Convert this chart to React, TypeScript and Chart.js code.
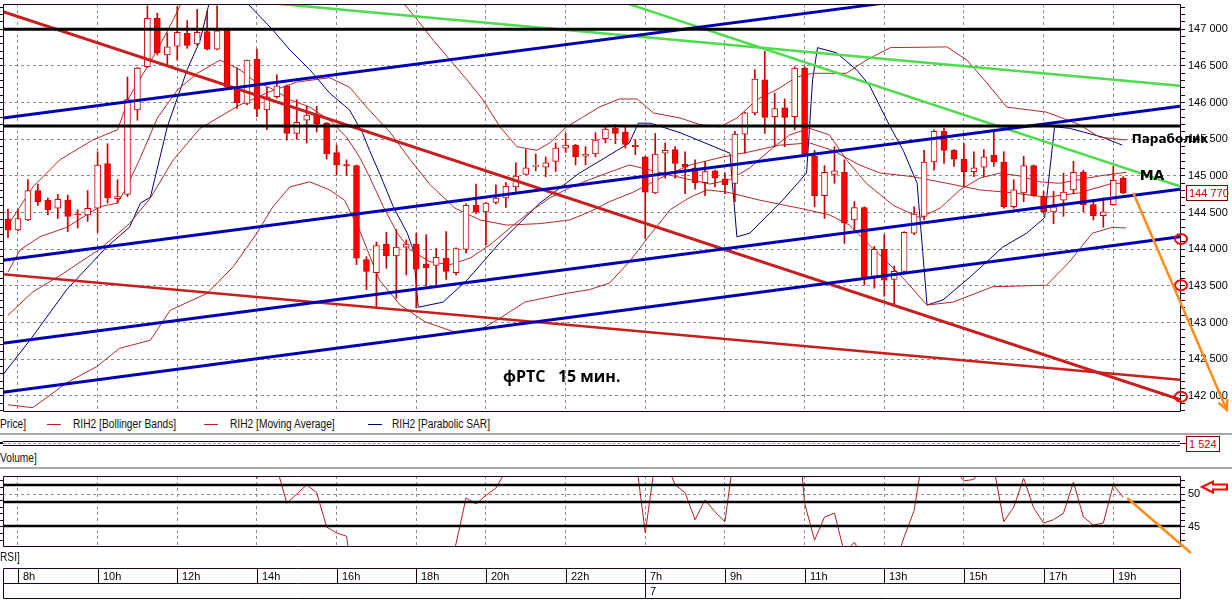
import React, { useEffect, useRef } from 'react';
import { Chart, registerables } from 'chart.js';

Chart.register(...registerables);

// ---------- scale ranges ----------
const X_MIN = -0.5;
const X_MAX = 117.7;
const PRICE_MIN = 141795;
const PRICE_MAX = 147345;
const RSI_MIN = 42.12;
const RSI_MAX = 52.73;

// ---------- candles (15 min) ----------
const candleOpen = [
  144410, 144265, 144400, 144800, 144670, 144560, 144670, 144480, 144470, 144560,
  145170, 144690, 144750, 145900, 146490, 147150, 146650, 146770, 146945, 146800,
  146970, 146730, 146990, 146210, 145990, 146590, 145900, 146080, 146230, 145580,
  145760, 145830, 145720, 145320, 145150, 145140, 143860, 143680, 144070, 143910,
  144030, 144070, 143800, 143780, 143880, 143680, 144000, 144600, 144510, 144640,
  144700, 144850, 145020, 145130, 145120, 145200, 145380, 145420, 145270, 145300,
  145510, 145650, 145600, 145420, 145260, 144770, 145310, 145360, 145160, 145110,
  144910, 145070, 144960, 144900, 145570, 145860, 146310, 145810, 145930, 145810,
  146470, 145270, 144730, 145020, 145050, 144400, 144570, 143630, 144000, 143590,
  143700, 144220, 144450, 145190, 145610, 145350, 145230, 145060, 145120, 145280,
  145190, 144580, 144770, 145140, 144720, 144510, 144670, 144810, 145050, 144610,
  144460, 144610, 144970,
];
const candleHigh = [
  144550, 144540, 144950, 144890, 144700, 144750, 144740, 144540, 144800, 145330,
  145440, 144950, 146350, 146480, 147320, 147220, 146950, 147310, 147120, 147270,
  147250, 147320, 147000, 146470, 146580, 146730, 146210, 146380, 146240, 146040,
  145950, 145950, 145730, 145420, 145220, 145150, 143900, 144100, 144230, 144270,
  144130, 144220, 144200, 144010, 144240, 144020, 144620, 144890, 144640, 144880,
  144910, 145180, 145360, 145300, 145260, 145450, 145580, 145430, 145400, 145590,
  145680, 145700, 145670, 145490, 145270, 145580, 145450, 145400, 145330, 145220,
  145200, 145080, 145040, 145610, 145870, 146450, 146700, 146130, 146050, 146490,
  146490, 145350, 145140, 145400, 145220, 144650, 144580, 144040, 144200, 143770,
  144240, 144580, 145350, 145630, 145650, 145360, 145440, 145330, 145360, 145630,
  145330, 144950, 145270, 145150, 144790, 144790, 145040, 145200, 145080, 144670,
  144700, 145130, 144990,
];
const candleLow = [
  144160, 144250, 144390, 144600, 144470, 144420, 144240, 144290, 144380, 144230,
  144630, 144630, 144720, 145760, 146480, 146650, 146510, 146580, 146740, 146780,
  146720, 146720, 146200, 145920, 145970, 145810, 145630, 146060, 145490, 145500,
  145450, 145600, 145230, 145010, 145010, 143790, 143450, 143220, 143740, 143330,
  143650, 143200, 143500, 143500, 143590, 143650, 143950, 144490, 144060, 144620,
  144570, 144790, 145020, 145070, 144990, 145060, 145320, 145150, 145150, 145260,
  145450, 145440, 145380, 145290, 144150, 144760, 144970, 144970, 144760, 144820,
  144730, 144850, 144760, 144650, 145310, 145830, 145580, 145400, 145400, 145630,
  145290, 144580, 144420, 144900, 144080, 144260, 143510, 143470, 143360, 143240,
  143680, 144200, 144400, 145080, 145170, 145130, 144860, 144990, 144990, 145130,
  144560, 144560, 144650, 144720, 144490, 144350, 144450, 144760, 144510, 144400,
  144300, 144600, 144760,
];
const candleClose = [
  144260, 144420, 144800, 144650, 144540, 144680, 144450, 144470, 144560, 145150,
  144700, 144720, 146040, 146470, 147150, 146680, 146760, 146960, 146780, 146960,
  146730, 146980, 146210, 146000, 146580, 145910, 146080, 146230, 145580, 145730,
  145830, 145710, 145300, 145150, 145140, 143880, 143700, 144050, 143910, 144030,
  144070, 143730, 143750, 143890, 143700, 144010, 144600, 144510, 144630, 144700,
  144860, 145000, 145110, 145140, 145180, 145380, 145420, 145260, 145300, 145490,
  145640, 145580, 145430, 145400, 144780, 145300, 145350, 145170, 145120, 144910,
  145060, 144970, 144880, 145570, 145860, 146320, 145800, 145920, 145800, 146470,
  145300, 144730, 145050, 145070, 144360, 144570, 143620, 144000, 143580, 143700,
  144230, 144480, 145190, 145610, 145350, 145230, 145060, 145110, 145260, 145190,
  144580, 144810, 145140, 144730, 144510, 144580, 144780, 145050, 144610, 144460,
  144510, 144940, 144770,
];

// ---------- time axis ----------
const timeLabels = ['8h', '10h', '12h', '14h', '16h', '18h', '20h', '22h', '7h', '9h', '11h', '13h', '15h', '17h', '19h'];
const timeIndex = [1, 9, 17, 25, 33, 41, 48, 56, 64, 72, 80, 88, 96, 104, 111];
const dayLabel = '7';
const dayIndex = 64;

// ---------- indicators: [candle index, price] ----------
const bbUpper = [
  [0, 144330], [1.2, 144580], [2.5, 144850], [5.2, 145220], [8.5, 145490], [11, 145630], [12.2, 146080],
  [13.6, 146400], [15, 146720], [16.6, 147130], [17.8, 147470], [21.3, 147740], [25.3, 147670], [29.3, 147470],
  [33.3, 147540], [36.3, 147600], [39.7, 147360], [41.1, 147130], [42.7, 146850], [44.4, 146580], [46.1, 146310],
  [47.7, 146040], [49.4, 145670], [51.1, 145400], [53.1, 145350], [54.4, 145450], [56.1, 145670], [57.7, 145800],
  [59.4, 145940], [61.4, 146050], [63.2, 146050], [64.8, 145860], [67.5, 145790], [69.5, 145700], [71.5, 145670],
  [73.2, 145790], [75.2, 146040], [77.5, 146200], [79.2, 146350], [80.8, 146400], [84.2, 146400], [86.2, 146580],
  [88.6, 146750], [94.3, 146760], [96.3, 146580], [98.3, 146270], [100.3, 145940], [104.3, 145870], [107.6, 145700],
  [109.6, 145530], [112.3, 145490],
];
const bbMiddle = [
  [0, 143100], [2.5, 143420], [5.2, 143640], [9.2, 144000], [12.2, 144350], [14.3, 144700], [16.6, 145220],
  [19.3, 145650], [23.3, 145970], [26.3, 146150], [29, 146280], [32.3, 146340], [34.3, 146210], [36, 145940],
  [38.4, 145590], [40.4, 145220], [42.4, 144880], [44.9, 144560], [47.4, 144400], [50.1, 144330], [53.4, 144350],
  [56.4, 144400], [58.4, 144510], [60.4, 144650], [62.8, 144780], [65.5, 144970], [68.5, 145150], [71.5, 145250],
  [74.5, 145330], [77.5, 145420], [80.5, 145450], [82.8, 145350], [85.5, 145150], [87.6, 145040], [90.9, 144990],
  [94.3, 144900], [97.6, 144810], [100.9, 144770], [104.3, 144710], [107.6, 144770], [110.9, 144900], [112.3, 144900],
];
const bbLower = [
  [0, 141880], [2.5, 141840], [5.9, 142180], [8.9, 142400], [11.2, 142650], [14.3, 142760], [16.3, 143170],
  [20, 143400], [22.6, 143760], [25, 144220], [26.6, 144580], [28.3, 144850], [30.3, 144920], [32.3, 144810],
  [33.8, 144670], [35.3, 144260], [37.3, 143580], [39.4, 143240], [41.9, 143010], [44.9, 142870], [47.4, 142900],
  [49.4, 143060], [51.9, 143280], [56.1, 143400], [58.4, 143450], [60.4, 143540], [62.4, 143830], [64.5, 144200],
  [66.5, 144540], [68.5, 144710], [70.2, 144810], [72.2, 144780], [75.5, 144670], [79.5, 144560], [82.5, 144470],
  [84.5, 144330], [86.5, 144060], [89.6, 143650], [92.3, 143240], [94.9, 143280], [98.9, 143490], [104.3, 143510],
  [106.6, 143830], [108.9, 144220], [110.9, 144300], [112.3, 144290],
];
const maLine = [
  [0, 143690], [1.2, 143990], [3.2, 144170], [5.9, 144300], [9.2, 144580], [11, 144630], [11.9, 144840],
  [13.3, 145250], [15, 145790], [17, 146170], [19, 146400], [21.3, 146580], [23.3, 146450], [24.6, 146310],
  [26.8, 146170], [28.3, 146040], [30.3, 145940], [32.3, 145760], [34, 145530], [35.3, 145260], [36.3, 144990],
  [37.7, 144580], [39.1, 144220], [40.4, 143990], [42.4, 143830], [44.4, 143790], [46.4, 143880], [48.4, 144060],
  [50.4, 144290], [52.4, 144510], [54.4, 144700], [56.4, 144840], [58.4, 144950], [60.4, 145050], [62.4, 145150],
  [64.5, 145080], [66.5, 145010], [68.5, 144950], [70.5, 144890], [72.5, 144950], [74.5, 145110], [76.5, 145350],
  [78.5, 145560], [80.5, 145650], [82.5, 145560], [84.2, 145220], [86.2, 144900], [88.9, 144600], [91.6, 144430],
  [93.6, 144560], [95.6, 144810], [97.6, 144970], [99.6, 145040], [101.6, 145000], [103.6, 144920], [105.6, 144900],
  [107.6, 144950], [109.6, 145000], [112.3, 145050],
];
const sarLine = [
  [-0.5, 142290], [2.2, 142760], [5.9, 143450], [9.9, 144030], [12.2, 144300], [13.3, 144630], [14.3, 144710],
  [16, 145670], [18, 146450], [19.3, 146850], [20.1, 147300], [20.8, 147670], [21.8, 147950], [24, 147360],
  [26.6, 146990], [28.3, 146720], [30.3, 146450], [32.3, 146130], [34.3, 145900], [35.6, 145590], [36.3, 145350],
  [37.3, 145040], [38.7, 144580], [40.1, 144220], [40.7, 143990], [41.2, 143210], [43.7, 143280], [46.1, 143580],
  [49.4, 144090], [53.4, 144630], [57.4, 145040], [60.1, 145260], [62.4, 145450], [63.3, 145720], [64.5, 145720],
  [67.5, 145590], [72.5, 145310], [73.2, 144170], [74.5, 144220], [77.8, 144670], [80.2, 145040], [80.8, 146310],
  [81.3, 146750], [83.2, 146680], [85.2, 146450], [86.5, 146240], [88.6, 145670], [89.9, 145350], [91.3, 144900],
  [92.3, 143240], [93.9, 143310], [96.6, 143620], [99.9, 144030], [102.3, 144220], [104.1, 144430], [105.1, 145670],
  [106.6, 145650], [109.9, 145530], [111.9, 145420],
];

// ---------- hand-drawn lines: [[index, price], [index, price]] ----------
const blackLevels = [147000, 145680];
const blueLines = [
  [[-0.5, 145790], [88, 147357]],
  [[-0.5, 143850], [117.7, 145950]],
  [[-0.5, 142720], [117.7, 144820]],
  [[-0.5, 142050], [117.7, 144170]],
];
const redLines = [
  [[-0.5, 147240], [117.7, 141950]],
  [[-0.5, 143660], [117.7, 142220]],
];
const greenLines = [
  [[20, 147435], [117.7, 146230]],
  [[60, 147450], [117.7, 144860]],
];
const circleLevels = [144140, 143510, 141990];
const orangeArrow = [[113, 144770], [122.4, 141810]];
const sarLabel = { text: 'Параболик', at: [112.85, 145490] };
const maLabel = { text: 'MA', at: [113.65, 145000] };
const titleLabel = { text: 'фРТС   15 мин.', at: [49.7, 142250] };

// ---------- RSI ----------
const rsiValues = [
  60, 58, 62, 60, 57, 58, 56, 57, 59, 66,
  62, 61, 68, 72, 74, 70, 71, 70, 68, 69,
  67, 66, 67, 60, 57, 52.4, 55, 54, 48.6, 50,
  51.4, 50.2, 45, 44.1, 43.6, 33, 30, 34, 33, 35,
  34, 36, 35, 37, 36, 42.5, 49.4, 48.5, 49.8, 50.9,
  53.5, 55, 57, 58, 57, 58, 60, 59, 61, 62,
  63, 62, 60, 56, 44.1, 55, 55, 51.4, 50.2, 46.1,
  49.1, 47.3, 45.8, 57, 60, 63, 66, 64, 63, 66,
  48.6, 43, 46.5, 47.1, 41, 42.7, 40, 37, 38, 39,
  43.5, 47.5, 57, 60, 59, 54, 52, 52.2, 55, 54,
  45.8, 48, 52.4, 47.9, 45.6, 46.1, 47.1, 51.8, 46.5, 45.3,
  45.6, 51.4, 49.5,
];
const rsiLevels = [51.36, 48.79, 45.15];
const rsiTicks = [43, 44, 45, 46, 47, 48, 49, 50, 51, 52];
const rsiLabeled = [45, 50];
const rsiOrange = [[112.4, 49.4], [118.8, 41.06]];
const rsiMarker = 51.06;
const lastVolume = '1 524';

// ---------- helpers ----------
const FRAME = '#200020';
const GRID = '#8c8c8c';
const fmtPrice = (v: number) => `${Math.floor(v / 1000)} ${String(Math.round(v % 1000)).padStart(3, '0')}`;
const toXY = (pts: number[][]) => pts.map(([x, y]) => ({ x, y }));
const lineDs = (label: string, pts: number[][], color: string, width: number, order: number) => ({
  type: 'line',
  label,
  data: toXY(pts),
  borderColor: color,
  backgroundColor: color,
  borderWidth: width,
  pointRadius: 0,
  pointHoverRadius: 0,
  fill: false,
  tension: 0,
  order,
});

const xScaleCfg = () => ({
  type: 'linear',
  position: 'bottom',
  min: X_MIN,
  max: X_MAX,
  offset: false,
  afterBuildTicks: (s: any) => {
    s.ticks = timeIndex.map((v) => ({ value: v }));
  },
  afterFit: (s: any) => {
    s.height = 0;
    s.paddingLeft = 0;
    s.paddingRight = 0;
    s.paddingTop = 0;
    s.paddingBottom = 0;
  },
  ticks: { display: false },
  grid: { color: GRID, lineWidth: 1, drawTicks: false, offset: false },
  border: { display: false, dash: [3, 3] },
});

const fitVertical = (w: number) => (s: any) => {
  s.width = w;
  s.paddingTop = 0;
  s.paddingBottom = 0;
  s.paddingLeft = 0;
  s.paddingRight = 0;
};

const leftAxisCfg = (min: number, max: number, ticks: number[]) => ({
  type: 'linear',
  position: 'left',
  min,
  max,
  afterBuildTicks: (s: any) => {
    s.ticks = ticks.map((v) => ({ value: v }));
  },
  afterFit: fitVertical(3),
  ticks: { display: false },
  grid: { drawOnChartArea: false, tickLength: 3, tickColor: FRAME },
  border: { display: false },
});

const priceTicks: number[] = [];
for (let v = 141800; v <= 147300; v += 100) priceTicks.push(v);

const drawFrame = (ctx: CanvasRenderingContext2D, a: any) => {
  ctx.strokeStyle = FRAME;
  ctx.lineWidth = 1;
  ctx.setLineDash([]);
  ctx.beginPath();
  ctx.moveTo(a.left + 0.5, a.top + 0.5);
  ctx.lineTo(a.right + 0.5, a.top + 0.5);
  ctx.lineTo(a.right + 0.5, a.bottom + 0.5);
  ctx.lineTo(a.left + 0.5, a.bottom + 0.5);
  ctx.closePath();
  ctx.stroke();
};

const priceDecor = {
  id: 'priceDecor',
  afterDraw(chart: any) {
    const { ctx, chartArea: a } = chart;
    const xs = chart.scales.x;
    const ys = chart.scales.y;
    ctx.save();
    drawFrame(ctx, a);

    // last price box
    const lp = candleClose[candleClose.length - 1];
    const py = Math.round(ys.getPixelForValue(lp));
    ctx.fillStyle = '#ffffff';
    ctx.fillRect(a.right + 6, py - 8, 42, 16);
    ctx.strokeStyle = '#800000';
    ctx.lineWidth = 1;
    ctx.strokeRect(a.right + 6.5, py - 7.5, 41, 15);
    ctx.fillStyle = '#d00000';
    ctx.font = '11px "Liberation Sans"';
    ctx.textAlign = 'left';
    ctx.textBaseline = 'middle';
    ctx.fillText(fmtPrice(lp), a.right + 9, py + 0.5);

    // red circles on the axis
    ctx.strokeStyle = '#ff0000';
    ctx.lineWidth = 2;
    circleLevels.forEach((v) => {
      ctx.beginPath();
      ctx.ellipse(a.right + 1, ys.getPixelForValue(v), 6, 5, 0, 0, Math.PI * 2);
      ctx.stroke();
    });

    // orange arrow
    const [p0, p1] = orangeArrow;
    const x0 = xs.getPixelForValue(p0[0]);
    const y0 = ys.getPixelForValue(p0[1]);
    const x1 = xs.getPixelForValue(p1[0]);
    const y1 = ys.getPixelForValue(p1[1]);
    ctx.strokeStyle = '#ff8c1a';
    ctx.lineWidth = 2.5;
    ctx.beginPath();
    ctx.moveTo(x0, y0);
    ctx.lineTo(x1, y1);
    ctx.stroke();
    const ang = Math.atan2(y1 - y0, x1 - x0);
    ctx.beginPath();
    ctx.moveTo(x1 - 11 * Math.cos(ang - 0.45), y1 - 11 * Math.sin(ang - 0.45));
    ctx.lineTo(x1, y1);
    ctx.lineTo(x1 - 11 * Math.cos(ang + 0.45), y1 - 11 * Math.sin(ang + 0.45));
    ctx.stroke();

    // text annotations
    ctx.fillStyle = '#000000';
    ctx.textBaseline = 'middle';
    ctx.font = 'bold 12px "DejaVu Sans"';
    ctx.fillText(sarLabel.text, xs.getPixelForValue(sarLabel.at[0]), ys.getPixelForValue(sarLabel.at[1]));
    ctx.font = 'bold 14px "DejaVu Sans"';
    ctx.fillText(maLabel.text, xs.getPixelForValue(maLabel.at[0]), ys.getPixelForValue(maLabel.at[1]));
    ctx.font = 'bold 16px "Open Sans"';
    ctx.fillText(titleLabel.text, xs.getPixelForValue(titleLabel.at[0]), ys.getPixelForValue(titleLabel.at[1]));
    ctx.restore();
  },
};

const rsiDecor = {
  id: 'rsiDecor',
  afterDraw(chart: any) {
    const { ctx, chartArea: a } = chart;
    const xs = chart.scales.x;
    const ys = chart.scales.y;
    ctx.save();
    drawFrame(ctx, a);

    // orange line
    const [p0, p1] = rsiOrange;
    ctx.strokeStyle = '#ff8c1a';
    ctx.lineWidth = 2.5;
    ctx.beginPath();
    ctx.moveTo(xs.getPixelForValue(p0[0]), ys.getPixelForValue(p0[1]));
    ctx.lineTo(xs.getPixelForValue(p1[0]), ys.getPixelForValue(p1[1]));
    ctx.stroke();

    // red hollow arrow marker
    const my = ys.getPixelForValue(rsiMarker);
    const tip = a.right + 22;
    ctx.strokeStyle = '#ff0000';
    ctx.lineWidth = 2;
    ctx.beginPath();
    ctx.moveTo(tip, my);
    ctx.lineTo(tip + 11, my - 5.5);
    ctx.lineTo(tip + 11, my - 2.5);
    ctx.lineTo(tip + 25, my - 2.5);
    ctx.lineTo(tip + 25, my + 2.5);
    ctx.lineTo(tip + 11, my + 2.5);
    ctx.lineTo(tip + 11, my + 5.5);
    ctx.closePath();
    ctx.stroke();

    // time strip
    const top = a.bottom + 22;
    const mid = top + 15;
    const bot = top + 30;
    ctx.strokeStyle = FRAME;
    ctx.lineWidth = 1;
    ctx.beginPath();
    ctx.moveTo(a.left + 0.5, top + 0.5);
    ctx.lineTo(a.right + 0.5, top + 0.5);
    ctx.lineTo(a.right + 0.5, bot + 0.5);
    ctx.lineTo(a.left + 0.5, bot + 0.5);
    ctx.closePath();
    ctx.moveTo(a.left + 0.5, mid + 0.5);
    ctx.lineTo(a.right + 0.5, mid + 0.5);
    timeIndex.forEach((v) => {
      const px = Math.round(xs.getPixelForValue(v)) + 0.5;
      ctx.moveTo(px, top);
      ctx.lineTo(px, v === dayIndex ? bot : mid);
    });
    ctx.stroke();
    ctx.fillStyle = '#000000';
    ctx.font = '11px "Liberation Sans"';
    ctx.textAlign = 'left';
    ctx.textBaseline = 'middle';
    timeIndex.forEach((v, k) => {
      ctx.fillText(timeLabels[k], Math.round(xs.getPixelForValue(v)) + 5, (top + mid) / 2 + 1);
    });
    ctx.fillText(dayLabel, Math.round(xs.getPixelForValue(dayIndex)) + 5, (mid + bot) / 2 + 1);
    ctx.restore();
  },
};

function buildPriceConfig(): any {
  const wickData = candleOpen.map((_, i) => ({ x: i, y: [candleLow[i], candleHigh[i]] }));
  const bodyData = candleOpen.map((o, i) => ({ x: i, y: [Math.min(o, candleClose[i]), Math.max(o, candleClose[i])] }));
  const bodyColors = candleOpen.map((o, i) => (candleClose[i] < o ? '#ff0000' : '#ffffff'));
  const datasets: any[] = [
    lineDs('BB upper', bbUpper, '#b42828', 1, 3),
    lineDs('BB middle', bbMiddle, '#b42828', 1, 3),
    lineDs('BB lower', bbLower, '#b42828', 1, 3),
    lineDs('Moving Average', maLine, '#b42828', 1, 3),
    lineDs('Parabolic SAR', sarLine, '#000080', 1, 3),
    {
      type: 'bar',
      label: 'wick',
      data: wickData,
      backgroundColor: '#c80000',
      borderWidth: 0,
      barThickness: 1,
      grouped: false,
      order: 2,
    },
    {
      type: 'bar',
      label: 'body',
      data: bodyData,
      backgroundColor: bodyColors,
      borderColor: '#d00000',
      borderWidth: 1,
      borderSkipped: false,
      barThickness: 6,
      minBarLength: 1,
      grouped: false,
      order: 1,
    },
    ...blackLevels.map((v) => lineDs('level', [[X_MIN, v], [X_MAX, v]], '#000000', 3, 0)),
    ...blueLines.map((l) => lineDs('blue', l, '#0000b4', 3, 0)),
    ...redLines.map((l, k) => lineDs('red', l, '#c81e1e', k === 0 ? 3 : 2.5, 0)),
    ...greenLines.map((l) => lineDs('green', l, '#4cdc4c', 2.5, 0)),
  ];
  return {
    type: 'bar',
    data: { datasets },
    options: {
      responsive: false,
      animation: false,
      devicePixelRatio: 1,
      events: [],
      layout: { padding: { top: 4, bottom: 1, left: 0, right: 0 } },
      plugins: { legend: { display: false }, tooltip: { enabled: false } },
      scales: {
        x: xScaleCfg(),
        y: {
          type: 'linear',
          position: 'right',
          min: PRICE_MIN,
          max: PRICE_MAX,
          afterBuildTicks: (s: any) => {
            s.ticks = priceTicks.map((v) => ({ value: v }));
          },
          afterFit: fitVertical(52),
          ticks: {
            autoSkip: false,
            padding: 3,
            color: '#000000',
            font: { family: 'Liberation Sans', size: 11 },
            callback: (v: number) => (v % 500 === 0 ? fmtPrice(v) : ''),
          },
          grid: {
            color: (c: any) => (c.tick && c.tick.value % 500 === 0 ? GRID : 'rgba(0,0,0,0)'),
            tickColor: FRAME,
            tickLength: 5,
            lineWidth: 1,
          },
          border: { display: false, dash: [3, 3] },
        },
        yl: leftAxisCfg(PRICE_MIN, PRICE_MAX, priceTicks),
      },
    },
    plugins: [priceDecor],
  };
}

function buildRsiConfig(): any {
  const datasets: any[] = [
    {
      type: 'line',
      label: 'RSI',
      data: rsiValues.map((v, i) => ({ x: i, y: v })),
      borderColor: '#b41e1e',
      borderWidth: 1,
      pointRadius: 0,
      fill: false,
      tension: 0,
      order: 1,
    },
    ...rsiLevels.map((v) => lineDs('level', [[X_MIN, v], [X_MAX, v]], '#000000', 2.5, 0)),
  ];
  return {
    type: 'line',
    data: { datasets },
    options: {
      responsive: false,
      animation: false,
      devicePixelRatio: 1,
      events: [],
      layout: { padding: { top: 6, bottom: 55, left: 0, right: 0 } },
      plugins: { legend: { display: false }, tooltip: { enabled: false } },
      scales: {
        x: xScaleCfg(),
        y: {
          type: 'linear',
          position: 'right',
          min: RSI_MIN,
          max: RSI_MAX,
          afterBuildTicks: (s: any) => {
            s.ticks = rsiTicks.map((v) => ({ value: v }));
          },
          afterFit: fitVertical(52),
          ticks: {
            autoSkip: false,
            padding: 3,
            color: '#000000',
            font: { family: 'Liberation Sans', size: 11 },
            callback: (v: number) => (rsiLabeled.includes(v) ? String(v) : ''),
          },
          grid: {
            color: (c: any) => (c.tick && rsiLabeled.includes(c.tick.value) ? GRID : 'rgba(0,0,0,0)'),
            tickColor: FRAME,
            tickLength: 5,
            lineWidth: 1,
          },
          border: { display: false, dash: [3, 3] },
        },
        yl: leftAxisCfg(RSI_MIN, RSI_MAX, rsiTicks),
      },
    },
    plugins: [rsiDecor],
  };
}

const textStyle = (left: number, cy: number, extra: any = {}) => ({
  position: 'absolute' as const,
  left,
  top: cy - 7,
  height: 14,
  lineHeight: '14px',
  fontSize: 12,
  whiteSpace: 'nowrap' as const,
  color: '#101010',
  transform: 'scaleX(0.85)',
  transformOrigin: 'left center',
  ...extra,
});

const legendItems = [
  { line: 47, text: 73, color: '#c02020', label: 'RIH2 [Bollinger Bands]' },
  { line: 204, text: 230, color: '#c02020', label: 'RIH2 [Moving Average]' },
  { line: 368, text: 392, color: '#000080', label: 'RIH2 [Parabolic SAR]' },
];

export default function App() {
  const priceRef = useRef<HTMLCanvasElement>(null);
  const rsiRef = useRef<HTMLCanvasElement>(null);

  useEffect(() => {
    const c1 = new Chart(priceRef.current as HTMLCanvasElement, buildPriceConfig());
    const c2 = new Chart(rsiRef.current as HTMLCanvasElement, buildRsiConfig());
    return () => {
      c1.destroy();
      c2.destroy();
    };
  }, []);

  return (
    <div
      style={{
        position: 'fixed',
        left: 0,
        top: 0,
        width: 1232,
        height: 601,
        background: '#ffffff',
        overflow: 'hidden',
        fontFamily: '"Liberation Sans", Arial, sans-serif',
      }}
    >
      <canvas
        ref={priceRef}
        width={1232}
        height={412}
        style={{ position: 'absolute', left: 0, top: 0, width: 1232, height: 412 }}
      />

      {/* legend row */}
      <div style={textStyle(0, 424)}>Price]</div>
      {legendItems.map((it) => (
        <React.Fragment key={it.label}>
          <div style={{ position: 'absolute', left: it.line, top: 424, width: 14, height: 1, background: it.color }} />
          <div style={textStyle(it.text, 424)}>{it.label}</div>
        </React.Fragment>
      ))}
      <div style={{ position: 'absolute', left: 0, top: 433, width: 1232, height: 2, background: '#a8a8a8' }} />

      {/* volume strip */}
      <div style={{ position: 'absolute', left: 3, top: 441, width: 1177, height: 1, background: FRAME }} />
      <div style={{ position: 'absolute', left: 3, top: 443, width: 1177, height: 0, borderTop: '1px dashed #a0a0a0' }} />
      <div style={{ position: 'absolute', left: 3, top: 445, width: 1177, height: 1, background: FRAME }} />
      <div style={{ position: 'absolute', left: 0, top: 442, width: 3, height: 2, background: '#000' }} />
      <div style={{ position: 'absolute', left: 1180, top: 443, width: 6, height: 1, background: FRAME }} />
      <div
        style={{
          position: 'absolute',
          left: 1186,
          top: 436,
          width: 30,
          height: 14,
          border: '1px solid #800000',
          background: '#fff',
          color: '#d00000',
          fontSize: 11,
          lineHeight: '14px',
          paddingLeft: 2,
          whiteSpace: 'nowrap',
        }}
      >
        {lastVolume}
      </div>
      <div style={textStyle(0, 458)}>Volume]</div>
      <div style={{ position: 'absolute', left: 0, top: 467, width: 1232, height: 2, background: '#a8a8a8' }} />

      <canvas
        ref={rsiRef}
        width={1232}
        height={131}
        style={{ position: 'absolute', left: 0, top: 470, width: 1232, height: 131 }}
      />
      <div style={textStyle(0, 557)}>RSI]</div>
    </div>
  );
}
